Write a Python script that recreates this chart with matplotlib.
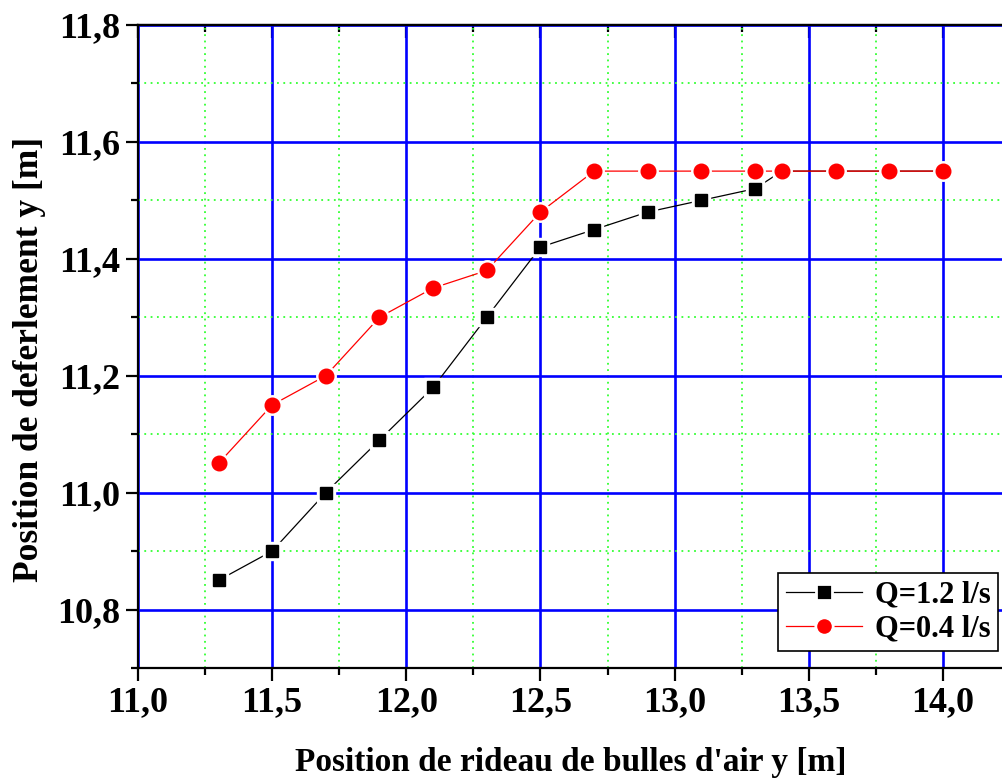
import matplotlib
matplotlib.use('Agg')
from matplotlib import pyplot as plt
from matplotlib.ticker import MultipleLocator, FuncFormatter

x_q12 = [11.3, 11.5, 11.7, 11.9, 12.1, 12.3, 12.5, 12.7, 12.9, 13.1, 13.3, 13.4, 13.6, 13.8, 14.0]
y_q12 = [10.85, 10.90, 11.00, 11.09, 11.18, 11.30, 11.42, 11.45, 11.48, 11.50, 11.52, 11.55, 11.55, 11.55, 11.55]

x_q04 = [11.3, 11.5, 11.7, 11.9, 12.1, 12.3, 12.5, 12.7, 12.9, 13.1, 13.3, 13.4, 13.6, 13.8, 14.0]
y_q04 = [11.05, 11.15, 11.20, 11.30, 11.35, 11.38, 11.48, 11.55, 11.55, 11.55, 11.55, 11.55, 11.55, 11.55, 11.55]

labels = ['Q=1.2 l/s', 'Q=0.4 l/s']

plt.rcParams['font.family'] = ['Liberation Serif', 'DejaVu Serif']
plt.rcParams['font.weight'] = 'bold'

fig = plt.figure(figsize=(10.03, 7.78), dpi=100)
ax = fig.add_axes([0.1376, 0.1414, 1 - 0.1376, 0.8265])

ax.set_xlim(11.0, 14.224)
ax.set_ylim(10.7, 11.8)

# grid
ax.xaxis.set_major_locator(MultipleLocator(0.5))
ax.xaxis.set_minor_locator(MultipleLocator(0.25))
ax.yaxis.set_major_locator(MultipleLocator(0.2))
ax.yaxis.set_minor_locator(MultipleLocator(0.1))
ax.grid(which='major', color='#0000ff', lw=1.9, zorder=0)
ax.grid(which='minor', color='#33ff33', lw=1.3, ls=(0, (1, 2.5)), zorder=0)
ax.set_axisbelow(True)

fmt = FuncFormatter(lambda v, p: ('%.1f' % v).replace('.', ','))
ax.xaxis.set_major_formatter(fmt)
ax.yaxis.set_major_formatter(fmt)

for s in ['left', 'bottom', 'top']:
    ax.spines[s].set_linewidth(1.6)
ax.spines['right'].set_visible(False)

ax.tick_params(which='major', direction='out', length=9, width=1.6, labelsize=26, pad=4)
ax.tick_params(which='minor', direction='out', length=5, width=1.6)

top = ax.secondary_xaxis('top')
top.xaxis.set_major_locator(MultipleLocator(0.5))
top.xaxis.set_minor_locator(MultipleLocator(0.25))
top.tick_params(which='major', direction='in', length=9, width=1.6, labeltop=False)
top.tick_params(which='minor', direction='in', length=5, width=1.6)
top.spines['top'].set_linewidth(1.6)

# white halo behind markers to give the gap on the lines
ax.plot(x_q12, y_q12, 's', color='white', ms=13, zorder=3)
ax.plot(x_q12, y_q12, '-', color='black', lw=0.9, zorder=2)
ax.plot(x_q12, y_q12, 's', color='black', ms=9, zorder=4)
ax.plot(x_q04, y_q04, 'o', color='white', ms=14, zorder=5)
ax.plot(x_q04, y_q04, '-', color='red', lw=0.9, zorder=2)
ax.plot(x_q04, y_q04, 'o', color='red', ms=10.5, zorder=6)

# legend handles (white edge gives the gap in the line)
h1, = ax.plot([], [], '-s', color='black', lw=0.9, ms=11, mfc='black', mec='white', mew=2)
h2, = ax.plot([], [], '-o', color='red', lw=0.9, ms=12.5, mfc='red', mec='white', mew=2)
leg = ax.legend([h1, h2], labels, loc='lower right', bbox_to_anchor=(998 / 1003, (778 - 651) / 778),
                bbox_transform=fig.transFigure, fontsize=22, frameon=True, fancybox=False,
                edgecolor='black', framealpha=1, handlelength=2.5, handletextpad=0.4,
                borderpad=0.25, labelspacing=0.15, borderaxespad=0, numpoints=1)
leg.get_frame().set_linewidth(1.2)
for t in leg.get_texts():
    t.set_fontweight('bold')

ax.set_xlabel("Position de rideau de bulles d'air y [m]", fontsize=24, fontweight='bold', labelpad=20)
ax.set_ylabel('Position de deferlement y [m]', fontsize=25.5, fontweight='bold')
ax.yaxis.set_label_coords(-0.106, 0.48)

fig.savefig('out.png', dpi=100)
